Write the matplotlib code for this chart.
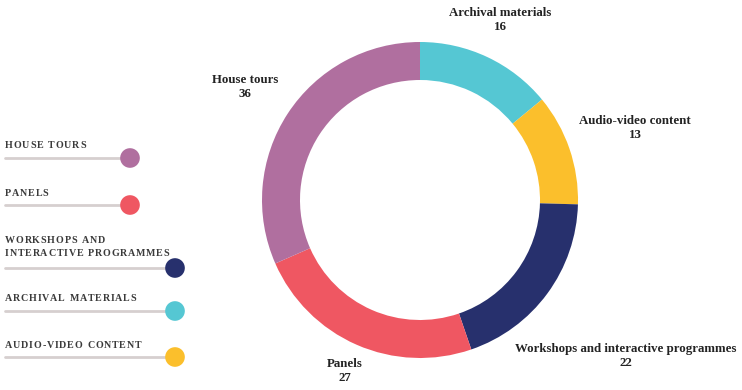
import matplotlib.pyplot as plt

# Programme types and how many of each
categories = ["Archival materials", "Audio-video content",
              "Workshops and interactive programmes", "Panels", "House tours"]
counts = [16, 13, 22, 27, 36]
colors = ["#55c7d3", "#fbbf2c", "#27306d", "#ef5762", "#b06f9f"]

# Legend order (top to bottom) and the wrapped captions
legend_order = ["House tours", "Panels", "Workshops and interactive programmes",
                "Archival materials", "Audio-video content"]
legend_text = ["HOUSE TOURS", "PANELS", "WORKSHOPS AND\nINTERACTIVE PROGRAMMES",
               "ARCHIVAL MATERIALS", "AUDIO-VIDEO CONTENT"]

W, H = 742, 390
SERIF = "Liberation Serif"
TEXT_COLOR = "#232323"

fig = plt.figure(figsize=(W / 100, H / 100), dpi=100)
ax = fig.add_axes([0, 0, 1, 1])

# Donut ring, starting at 12 o'clock and going clockwise
cx, cy, r = 420, 190, 158
ax.pie(counts, colors=colors, startangle=90, counterclock=False,
       center=(cx, cy), radius=r, frame=True,
       wedgeprops=dict(width=38, edgecolor="none"))
ax.set_xlim(0, W)
ax.set_ylim(0, H)
ax.set_aspect("equal")
ax.axis("off")

# Slice labels placed around the ring
label_pos = {
    "Archival materials": (500, 370),
    "Audio-video content": (635, 262),
    "Workshops and interactive programmes": (626, 34),
    "Panels": (345, 19),
    "House tours": (245, 303),
}
for name, n in zip(categories, counts):
    x, y = label_pos[name]
    ax.text(x, y, f"{name}\n{n}", ha="center", va="center", family=SERIF,
            fontweight="bold", fontsize=9.3, color=TEXT_COLOR, linespacing=1.3)

renderer = fig.canvas.get_renderer()


def spaced_text(x, y, s, tracking=0.8, **kw):
    """Draw s one glyph at a time with extra letter spacing (data units = px)."""
    x0 = x
    for ch in s:
        if ch == " ":
            x0 += 3.2 + tracking
            continue
        t = ax.text(x0, y, ch, ha="left", va="baseline", **kw)
        bb = t.get_window_extent(renderer)
        x0 += bb.width + tracking


# Left-hand legend: caption, grey rule, coloured dot
legend_rows = [  # caption baseline y, rule y, dot x
    (242, 232, 130),
    (194, 185, 130),
    (147, 122, 175),
    (89, 79, 175),
    (42, 33, 175),
]
color_of = dict(zip(categories, colors))
for name, caption, (ty, ly, dx) in zip(legend_order, legend_text, legend_rows):
    for i, line in enumerate(caption.split("\n")):
        spaced_text(5, ty - i * 13, line, family=SERIF, fontweight="bold",
                    fontsize=7.2, color="#3a3a3a")
    ax.plot([5, dx], [ly, ly], color="#d6cfcf", lw=2, solid_capstyle="round", zorder=1)
    ax.scatter([dx], [ly], s=200, color=color_of[name], edgecolors="none", zorder=2)

fig.savefig("out.png", dpi=100, facecolor="white")
